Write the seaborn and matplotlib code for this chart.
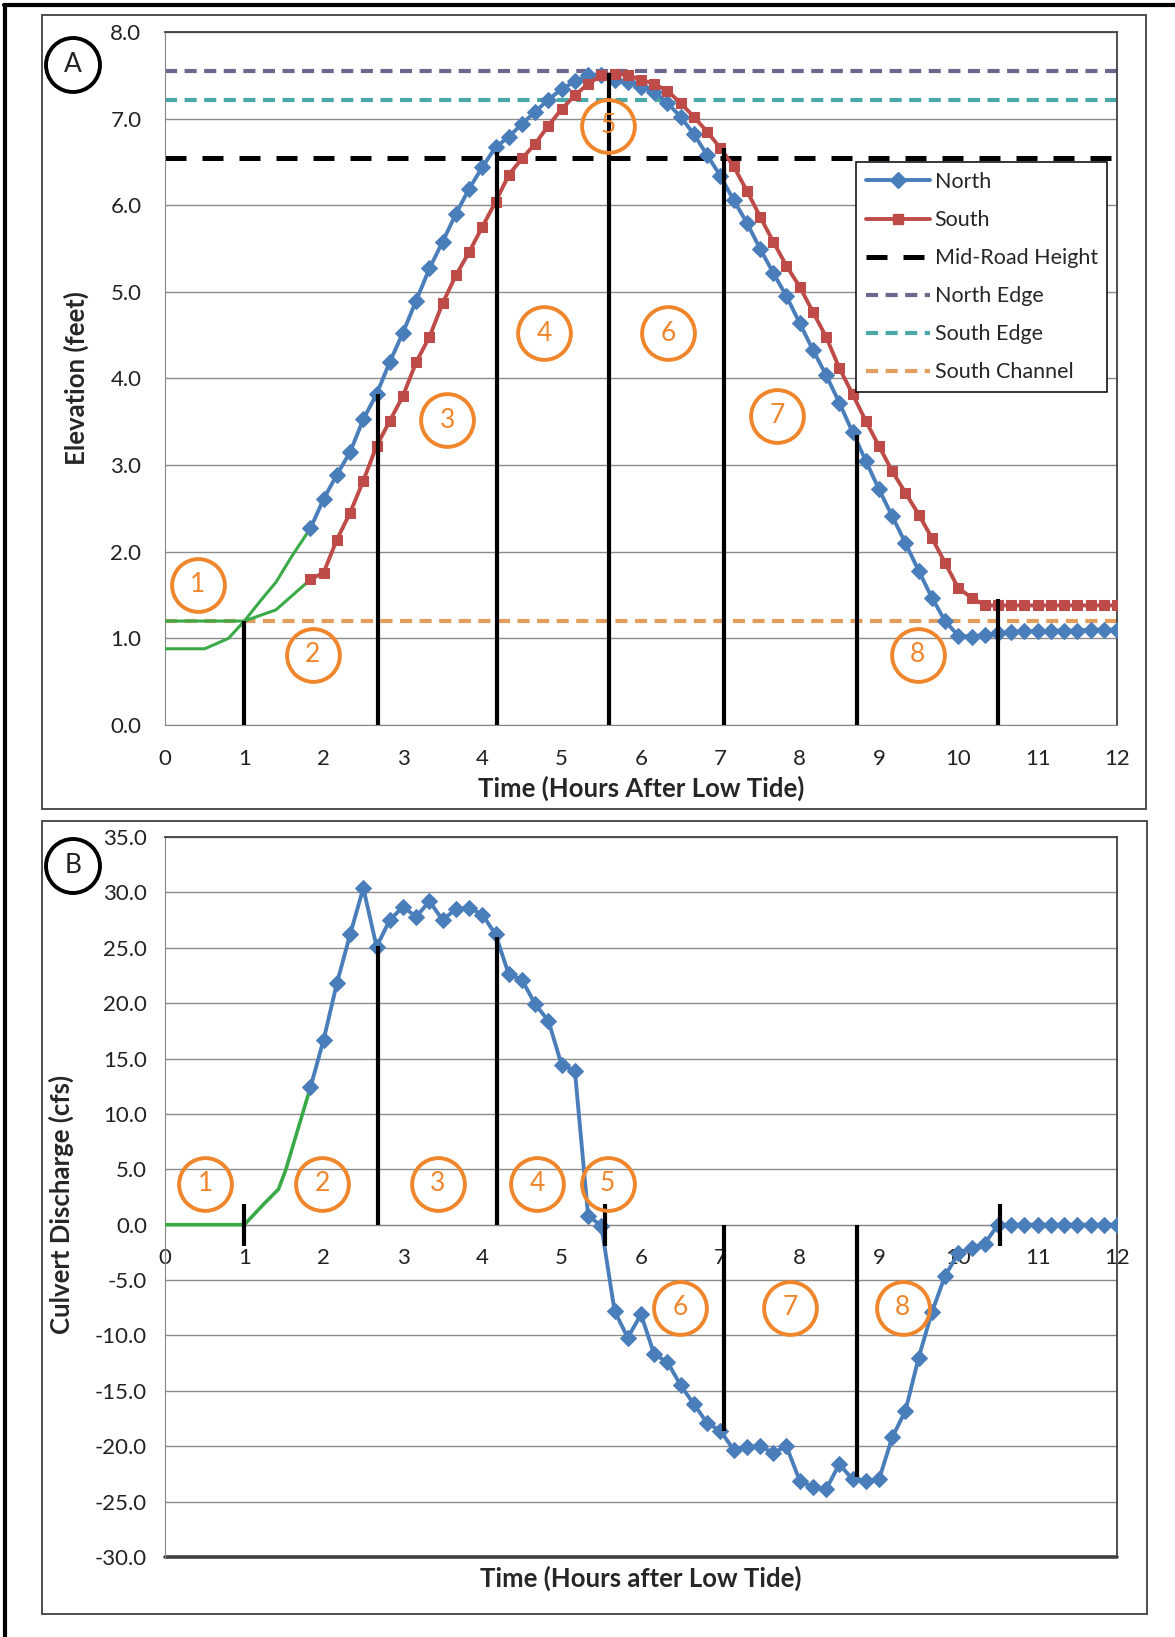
import numpy as np
import matplotlib
matplotlib.use("Agg")
import matplotlib.pyplot as plt
import seaborn as sns
from matplotlib.lines import Line2D
from matplotlib.patches import Rectangle, Ellipse
from matplotlib.ticker import MultipleLocator, FormatStrFormatter

# time axis: 10-minute steps from 1:50 to 12:00 hours after low tide
hours = np.arange(11, 73) / 6

north = [2.27, 2.61, 2.89, 3.15, 3.53, 3.82, 4.19, 4.53, 4.90, 5.27,
         5.58, 5.90, 6.19, 6.44, 6.67, 6.79, 6.94, 7.08, 7.22, 7.34,
         7.43, 7.50, 7.50, 7.45, 7.42, 7.37, 7.31, 7.18, 7.02, 6.82,
         6.58, 6.34, 6.06, 5.80, 5.50, 5.22, 4.95, 4.64, 4.33, 4.04,
         3.72, 3.38, 3.05, 2.72, 2.41, 2.10, 1.78, 1.47, 1.20, 1.03,
         1.02, 1.04, 1.06, 1.07, 1.08, 1.08, 1.09, 1.09, 1.09, 1.10, 1.10, 1.10]

south = [1.68, 1.76, 2.14, 2.45, 2.82, 3.22, 3.51, 3.80, 4.19, 4.48,
         4.87, 5.19, 5.46, 5.75, 6.04, 6.35, 6.54, 6.71, 6.92, 7.11,
         7.27, 7.40, 7.50, 7.52, 7.50, 7.45, 7.40, 7.32, 7.18, 7.02,
         6.85, 6.66, 6.45, 6.17, 5.87, 5.58, 5.30, 5.06, 4.77, 4.48,
         4.12, 3.82, 3.51, 3.22, 2.93, 2.68, 2.43, 2.16, 1.87, 1.58,
         1.47, 1.38, 1.38, 1.38, 1.38, 1.38, 1.38, 1.38, 1.38, 1.38, 1.38, 1.38]

discharge = [12.4, 16.7, 21.8, 26.2, 30.4, 25.1, 27.5, 28.7, 27.8, 29.2,
             27.5, 28.5, 28.6, 28.0, 26.2, 22.6, 22.1, 19.9, 18.4, 14.4,
             13.9, 0.8, -0.1, -7.8, -10.2, -8.1, -11.7, -12.4, -14.5, -16.2,
             -17.9, -18.6, -20.3, -20.1, -20.0, -20.6, -20.0, -23.1, -23.7, -23.9,
             -21.6, -23.0, -23.1, -23.0, -19.2, -16.8, -12.0, -7.9, -4.6, -2.6,
             -2.1, -1.7, 0, 0, 0, 0, 0, 0, 0, 0, 0, 0]

# green lead-in segments
green_n_t = [0, 1.0, 1.2, 1.4, 1.6, 1.833]
green_n = [1.2, 1.2, 1.43, 1.65, 1.95, 2.27]
green_s_t = [0, 0.5, 0.8, 1.0, 1.4, 1.833]
green_s = [0.88, 0.88, 1.0, 1.2, 1.33, 1.68]
green_q_t = [0, 1.0, 1.25, 1.43, 1.52, 1.833]
green_q = [0, 0, 1.9, 3.2, 4.9, 12.4]

mid_road = 6.55
north_edge = 7.55
south_edge = 7.22
south_channel = 1.2

# phase boundaries
phase_x_a = [1.0, 2.69, 4.19, 5.6, 7.05, 8.72, 10.5]
phase_top_a = [1.2, 3.82, 6.62, 7.53, 6.66, 3.35, 1.46]
phase_x_b = [1.0, 2.69, 4.19, 5.55, 7.05, 8.72, 10.52]
phase_lo_b = [-1.9, 0, 0, -1.9, 0, 0, -1.9]
phase_hi_b = [1.9, 25.2, 26.0, 1.9, -18.6, -22.8, 1.9]

phase_names = ["1", "2", "3", "4", "5", "6", "7", "8"]
phase_lab_x_a = [0.41, 1.86, 3.56, 4.78, 5.59, 6.34, 7.72, 9.49]
phase_lab_y_a = [1.62, 0.81, 3.52, 4.52, 6.92, 4.52, 3.57, 0.81]
phase_lab_x_b = [0.51, 1.98, 3.44, 4.69, 5.58, 6.49, 7.88, 9.30]
phase_lab_y_b = [3.7, 3.7, 3.7, 3.7, 3.7, -7.5, -7.5, -7.5]

blue = "#4A7EBB"
red = "#BE4B48"
green = "#3AAA48"
orange = "#F0862C"
purple = "#6F6690"
teal = "#4AA9A8"
tan = "#E39D5C"
grid_c = "#8C8C8C"
axis_c = "#868686"
box_c = "#404040"

sns.set_style("white")
plt.rcParams['font.family'] = ['Lato', 'DejaVu Sans']
plt.rcParams['axes.unicode_minus'] = False

W, H = 1175, 1637
fig = plt.figure(figsize=(W / 100, H / 100), dpi=100)

def fx(px):
    return px / W

def fy(py):
    return 1 - py / H

# panel frames and outer border
for (x0, y0, x1, y1) in [(42, 15, 1146, 809), (42, 821, 1147, 1614)]:
    fig.add_artist(Rectangle((fx(x0), fy(y1)), fx(x1) - fx(x0), fy(y0) - fy(y1),
                             transform=fig.transFigure, fill=False, ec=box_c, lw=1.3))
fig.add_artist(Line2D([fx(4), 1], [fy(5), fy(5)], transform=fig.transFigure, color="k", lw=3))
fig.add_artist(Line2D([fx(5), fx(5)], [0, fy(5)], transform=fig.transFigure, color="k", lw=3))

for lab, cy in [("A", 65), ("B", 866)]:
    fig.add_artist(Ellipse((fx(73), fy(cy)), 54 / W, 54 / H, transform=fig.transFigure,
                           fill=False, ec="k", lw=2.8))
    fig.text(fx(73), fy(cy), lab, ha="center", va="center", fontsize=19, color="#222222")

ax1 = fig.add_axes([fx(165), fy(725), fx(1117) - fx(165), fy(32) - fy(725)])
ax2 = fig.add_axes([fx(165), fy(1557), fx(1117) - fx(165), fy(837) - fy(1557)])

# ---------------- panel A ----------------
ax1.axhline(north_edge, color=purple, lw=3, dashes=(2.9, 1.8), zorder=2)
ax1.axhline(south_edge, color=teal, lw=3, dashes=(2.9, 1.8), zorder=2)
ax1.axhline(mid_road, color="k", lw=3.6, dashes=(4.2, 3.2), zorder=2)
ax1.axhline(south_channel, color=tan, lw=3, dashes=(2.9, 1.8), zorder=2)

ax1.plot(green_n_t, green_n, color=green, lw=2.2, zorder=3)
ax1.plot(green_s_t, green_s, color=green, lw=2.2, zorder=3)

sns.lineplot(x=hours, y=north, ax=ax1, color=blue, lw=2.8, marker="D", markersize=8,
             mec=blue, mfc=blue, legend=False, zorder=4)
sns.lineplot(x=hours, y=south, ax=ax1, color=red, lw=2.8, marker="s", markersize=7.5,
             mec=red, mfc=red, legend=False, zorder=4)

ax1.vlines(phase_x_a, 0, phase_top_a, color="k", lw=3, zorder=5)

ax1.plot(phase_lab_x_a, phase_lab_y_a, "o", ms=38, mfc="none", mec=orange, mew=2.8, zorder=6)
for t, x, y in zip(phase_names, phase_lab_x_a, phase_lab_y_a):
    ax1.text(x, y, t, ha="center", va="center", fontsize=19, color=orange, zorder=7)

ax1.set_xlim(0, 12)
ax1.set_ylim(0, 8)
ax1.xaxis.set_major_locator(MultipleLocator(1))
ax1.xaxis.set_minor_locator(MultipleLocator(0.5))
ax1.yaxis.set_major_locator(MultipleLocator(1))
ax1.yaxis.set_major_formatter(FormatStrFormatter("%.1f"))
ax1.grid(axis="y", color=grid_c, lw=1.0, zorder=0)
ax1.set_axisbelow(True)
ax1.tick_params(axis="both", which="both", direction="out", length=7, width=1,
                color=axis_c, labelsize=16, labelcolor="#222222")
ax1.tick_params(axis="x", pad=10)
ax1.tick_params(axis="y", pad=10)
for s in ["left", "bottom"]:
    ax1.spines[s].set_color(axis_c)
for s in ["top", "right"]:
    ax1.spines[s].set_color(box_c)
    ax1.spines[s].set_linewidth(1.3)

ax1.set_xlabel("Time (Hours After Low Tide)", fontsize=18.5, fontweight="bold")
ax1.set_ylabel("Elevation (feet)", fontsize=18.5, fontweight="bold")
ax1.xaxis.set_label_coords(0.5, -0.091)
ax1.xaxis.label.set_verticalalignment("center")
ax1.yaxis.set_label_coords(-0.093, 0.5)
ax1.yaxis.label.set_verticalalignment("center")

handles = [
    Line2D([], [], color=blue, lw=2.8, marker="D", ms=8),
    Line2D([], [], color=red, lw=2.8, marker="s", ms=7.5),
    Line2D([], [], color="k", lw=3.6, dashes=(4.2, 3.2)),
    Line2D([], [], color=purple, lw=3, dashes=(2.9, 1.8)),
    Line2D([], [], color=teal, lw=3, dashes=(2.9, 1.8)),
    Line2D([], [], color=tan, lw=3, dashes=(2.9, 1.8)),
]
labels = ["North", "South", "Mid-Road Height", "North Edge", "South Edge", "South Channel"]
leg = ax1.legend(handles, labels, loc="upper right", bbox_to_anchor=(0.99, 0.812),
                 fontsize=15.5, frameon=True, fancybox=False, framealpha=1,
                 edgecolor="k", handlelength=3.0, handletextpad=0.2,
                 labelspacing=0.84, borderpad=0.45, borderaxespad=0)
leg.get_frame().set_linewidth(1.1)
leg.set_zorder(8)

# ---------------- panel B ----------------
ax2.plot(green_q_t, green_q, color=green, lw=2.6, zorder=3)
sns.lineplot(x=hours, y=discharge, ax=ax2, color=blue, lw=2.8, marker="D", markersize=8,
             mec=blue, mfc=blue, legend=False, zorder=4)
ax2.vlines(phase_x_b, phase_lo_b, phase_hi_b, color="k", lw=3, zorder=5)

ax2.plot(phase_lab_x_b, phase_lab_y_b, "o", ms=38, mfc="none", mec=orange, mew=2.8, zorder=6)
for t, x, y in zip(phase_names, phase_lab_x_b, phase_lab_y_b):
    ax2.text(x, y, t, ha="center", va="center", fontsize=19, color=orange, zorder=7)

ax2.set_xlim(0, 12)
ax2.set_ylim(-30, 35)
ax2.xaxis.set_major_locator(MultipleLocator(1))
ax2.yaxis.set_major_locator(MultipleLocator(5))
ax2.yaxis.set_minor_locator(MultipleLocator(1))
ax2.yaxis.set_major_formatter(FormatStrFormatter("%.1f"))
ax2.grid(axis="y", color=grid_c, lw=1.0, zorder=0)
ax2.set_axisbelow(True)
ax2.spines["bottom"].set_position(("data", 0))
ax2.spines["bottom"].set_color(axis_c)
ax2.spines["left"].set_color(axis_c)
for s in ["top", "right"]:
    ax2.spines[s].set_color(box_c)
    ax2.spines[s].set_linewidth(1.3)
ax2.axhline(-30, color=box_c, lw=2.6, clip_on=False, zorder=1)
ax2.tick_params(axis="y", which="major", direction="inout", length=14, width=1,
                color=axis_c, labelsize=16, labelcolor="#222222", pad=6)
ax2.tick_params(axis="y", which="minor", direction="inout", length=10, width=1, color=axis_c)
ax2.tick_params(axis="x", direction="out", length=7, width=1, color=axis_c,
                labelsize=16, labelcolor="#222222", pad=10)

ax2.set_xlabel("Time (Hours after Low Tide)", fontsize=18.5, fontweight="bold")
ax2.set_ylabel("Culvert Discharge (cfs)", fontsize=18.5, fontweight="bold")
ax2.xaxis.set_label_coords(0.5, -0.029)
ax2.xaxis.label.set_verticalalignment("center")
ax2.yaxis.set_label_coords(-0.109, 0.49)
ax2.yaxis.label.set_verticalalignment("center")

plt.savefig("out.png", dpi=100)
